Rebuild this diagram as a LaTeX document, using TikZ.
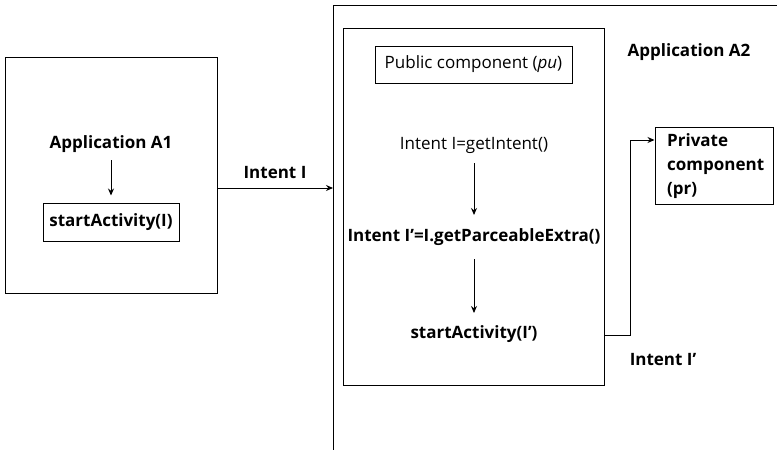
\documentclass[tikz,border=0pt]{standalone}
\usepackage{fontspec}
\setmainfont{Open Sans}
\usetikzlibrary{arrows.meta,calc}
\tikzset{
  box/.style={draw, line width=1pt, inner sep=0pt},
  lbl/.style={inner sep=0pt, font=\fontsize{17}{24}\selectfont\bfseries},
  txt/.style={inner sep=0pt, font=\fontsize{17}{24}\selectfont},
  conn/.style={line width=1pt},
  arr/.style={line width=1pt, -{Stealth[length=7pt,width=6pt]}},
}
\begin{document}
\begin{tikzpicture}[x=1pt,y=-1pt]
\useasboundingbox (0,0) rectangle (777,450);
% Application A1
\node[box, minimum width=212pt, minimum height=236pt] (a1) at (111,175) {};
\node[lbl] (a1t) at (111,144) {Application A1};
\node[box, lbl, minimum width=136pt, minimum height=38pt] (sa) at (111,222) {startActivity(I)};
\coordinate (a1s) at (111,160);
\draw[arr] (a1s) -- ($(sa.north)+(0,-7)$);
% Application A2 frame (clipped)
\coordinate (fl) at (333,5);
\draw[conn] (777,5) -- (fl) -- (333,450);
\coordinate (fin) at (333,188);
\coordinate (a1out) at (217,188);
\draw[arr] (a1out) -- (fin) node[lbl, midway, above=9pt] (it) {Intent I};
\node[lbl] (a2t) at (689,52) {Application A2};
% inner box
\node[box, minimum width=261pt, minimum height=357pt] (in) at (473.5,206.5) {};
\node[box, txt, minimum width=197pt, minimum height=37pt] (pu) at (473.5,64.5) {Public component (\textit{pu})};
\node[txt] (gi) at (474,145) {Intent I=getIntent()};
\node[lbl] (ge) at (474,237) {Intent I’=I.getParceableExtra()};
\node[lbl] (sa2) at (474,334) {startActivity(I’)};
\draw[arr] (474,163) -- (474,215);
\draw[arr] (474,259) -- (474,313);
% private component
\node[box, minimum width=118pt, minimum height=77pt] (pr) at (714,165.5) {};
\node[lbl, align=left, anchor=north west] (prt) at (667,133) {Private\\component\\(pr)};
\coordinate (o1) at (604,335);
\coordinate (o2) at (630,335);
\coordinate (o3) at (630,140);
\draw[conn] (o1) -- (o2) -- (o3);
\draw[arr] (o3) -- (pr.west |- o3);
\node[lbl] (ip) at (663,360) {Intent I’};
\end{tikzpicture}
\end{document}
